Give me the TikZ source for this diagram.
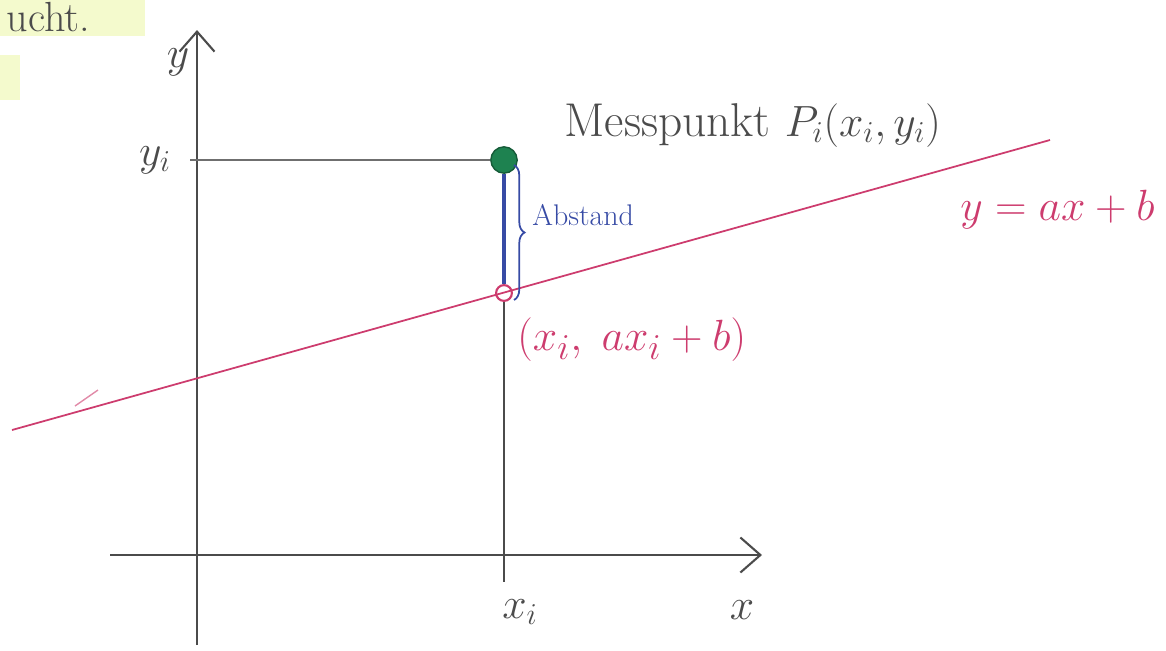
\documentclass[tikz,border=0pt]{standalone}
\usepackage{tikz}
\usetikzlibrary{arrows.meta,positioning,calc,decorations.pathreplacing}

\definecolor{fitred}{RGB}{205,60,110}
\definecolor{dotgreen}{RGB}{30,130,80}
\definecolor{gapblue}{RGB}{55,75,165}
\definecolor{penGray}{RGB}{75,75,75}
\definecolor{markYellow}{RGB}{244,250,205}

\begin{document}
\begin{tikzpicture}[
  x=0.02cm, y=-0.02cm,
  ax/.style={draw=penGray, line width=1.2pt},
  lbl/.style={font=\fontsize{24}{28}\selectfont, text=penGray, inner sep=1pt},
  >={Straight Barb[length=4mm,width=7mm]}, thick
]
  \useasboundingbox (0,0) rectangle (1166,650);

  % highlight scraps in the corner
  \fill[markYellow] (0,0) rectangle (145,36);
  \fill[markYellow] (0,55) rectangle (20,100);
  \node[lbl, anchor=west] (note) at (4,17) {ucht.};

  % axes
  \coordinate (ybot) at (197,645);
  \coordinate (ytop) at (197,30);
  \coordinate (xleft) at (110,555);
  \coordinate (xright) at (762,555);
  \draw[ax,->] (ybot) -- (ytop);
  \draw[ax,->] (xleft) -- (xright);
  \node[lbl] (ylab) at (178,62) {$y$};
  \node[lbl] (xlab) at (742,610) {$x$};

  % measured point and the fitted line
  \coordinate (yi) at (190,160);
  \coordinate (xtick) at (504,582);
  \coordinate (lineA) at (12,430);
  \coordinate (lineB) at (1050,140);
  \node[circle, fill=dotgreen, draw=dotgreen!70!black, minimum size=15pt, inner sep=0pt] (meas) at (504,160) {};
  \node[circle, draw=fitred, minimum size=9pt, inner sep=0pt, line width=1.2pt] (foot) at (504,293) {};

  \draw[ax, draw=penGray!80] (yi) -- (meas);
  \draw[ax] (foot) -- (xtick);
  \draw[fitred, line width=1pt] (lineA) -- (lineB);
  \draw[fitred!60, line width=0.8pt] (75,406) -- (98,390);
  \draw[gapblue, line width=1.8pt] (meas) -- (foot);
  \draw[gapblue, line width=1pt, decorate, decoration={brace, amplitude=6pt}]
      (514,165) -- (514,300);

  \node[lbl] (yilab) at (155,160) {$y_i$};
  \node[lbl] (xilab) at (520,612) {$x_i$};
  \node[lbl, font=\fontsize{27}{31}\selectfont, anchor=west] (measlab) at (562,125) {Messpunkt $P_i(x_i,y_i)$};
  \node[lbl, font=\fontsize{17}{20}\selectfont, text=gapblue, anchor=west] (gaplab) at (530,215) {Abstand};
  \node[lbl, font=\fontsize{31}{36}\selectfont, text=fitred, anchor=west] (footlab) at (515,340) {$(x_i,\;ax_i+b)$};
  \node[lbl, font=\fontsize{26}{30}\selectfont, text=fitred, anchor=west] (linelab) at (958,210) {$y=ax+b$};
\end{tikzpicture}
\end{document}
